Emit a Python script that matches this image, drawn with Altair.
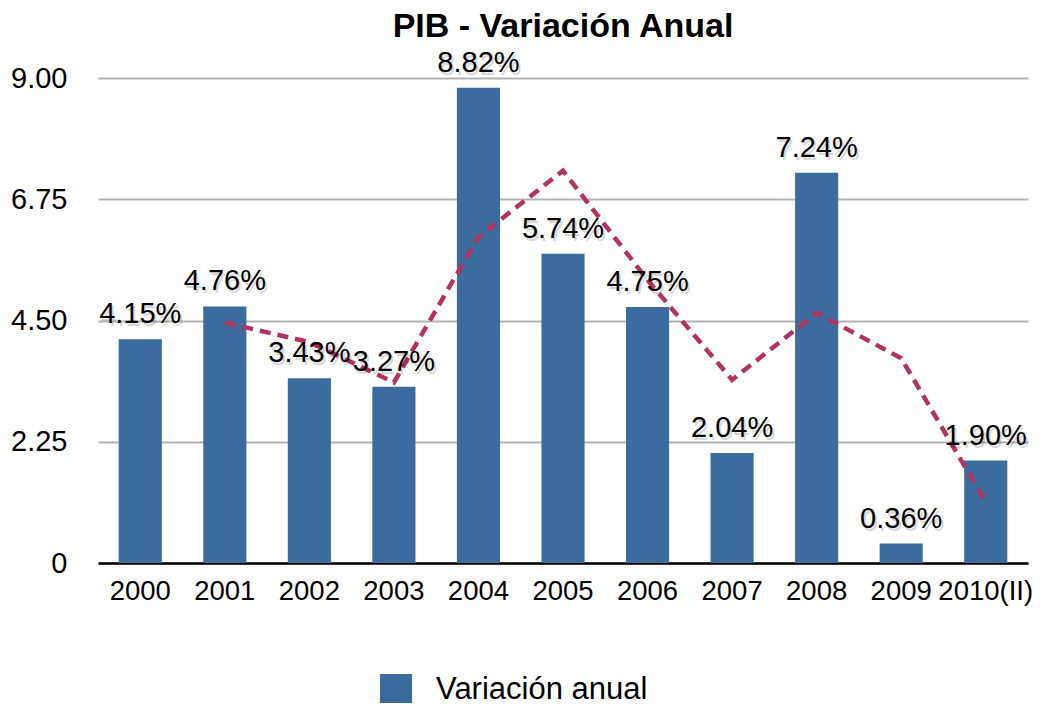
import altair as alt
import pandas as pd

years = ["2000", "2001", "2002", "2003", "2004", "2005", "2006", "2007", "2008", "2009", "2010(II)"]
values = [4.15, 4.76, 3.43, 3.27, 8.82, 5.74, 4.75, 2.04, 7.24, 0.36, 1.90]
labels = ["4.15%", "4.76%", "3.43%", "3.27%", "8.82%", "5.74%", "4.75%", "2.04%", "7.24%", "0.36%", "1.90%"]
trend_years = ["2001", "2002", "2003", "2004", "2005", "2006", "2007", "2008", "2009", "2010(II)"]
trend_values = [4.46, 4.10, 3.35, 6.05, 7.28, 5.25, 3.40, 4.64, 3.80, 1.13]
y_ticks = [0, 2.25, 4.5, 6.75, 9]
series_name = "Variación anual"

FONT = "Liberation Sans"
BLUE = "#3C6B9D"
RED = "#B4325F"

bars_df = pd.DataFrame({"year": years, "value": values, "label": labels, "serie": [series_name] * len(years)})
trend_df = pd.DataFrame({"year": trend_years, "value": trend_values})

x_enc = alt.X("year:N", sort=years,
              scale=alt.Scale(paddingInner=0.49, paddingOuter=0.245),
              axis=alt.Axis(title=None, labelAngle=0, labelFontSize=27.5, labelFont=FONT,
                            labelColor="#000", labelPadding=14, ticks=False,
                            domainColor="#000", domainWidth=2.5, grid=False))
y_scale = alt.Scale(domain=[0, 9], nice=False)
y_enc = alt.Y("value:Q", scale=y_scale,
              axis=alt.Axis(title=None, values=y_ticks, labelFontSize=29, labelFont=FONT,
                            labelColor="#000", labelPadding=31, ticks=False, domain=False,
                            gridColor="#b3b3b3", gridWidth=2,
                            labelExpr="datum.value == 0 ? '0' : format(datum.value, '.2f')"))

bars = alt.Chart(bars_df).mark_bar().encode(
    x=x_enc,
    y=y_enc,
    color=alt.Color("serie:N", scale=alt.Scale(domain=[series_name], range=[BLUE]),
                    legend=alt.Legend(title=None, orient="none", legendX=282, legendY=596,
                                      symbolType="square", symbolSize=1024,
                                      symbolStrokeWidth=0, labelFontSize=31, labelLimit=0,
                                      labelFont=FONT, labelColor="#000", labelOffset=24)),
)

shadow = alt.Chart(bars_df).mark_text(
    fontSize=29, font=FONT, color="#000", opacity=0.15, dx=2, dy=-13, baseline="alphabetic"
).encode(x=alt.X("year:N", sort=years), y=alt.Y("value:Q", scale=y_scale), text="label:N")

text = alt.Chart(bars_df).mark_text(
    fontSize=29, font=FONT, color="#000", dy=-16, baseline="alphabetic"
).encode(x=alt.X("year:N", sort=years), y=alt.Y("value:Q", scale=y_scale), text="label:N")

line = alt.Chart(trend_df).mark_line(
    color=RED, strokeWidth=4.5, strokeDash=[11, 7]
).encode(x=alt.X("year:N", sort=years), y=alt.Y("value:Q", scale=y_scale))

chart = alt.layer(bars, line, shadow, text).properties(
    width=930, height=485,
    title=alt.Title("PIB - Variación Anual", fontSize=34, font=FONT, fontWeight="bold",
                    color="#000", anchor="middle", offset=5),
    autosize=alt.AutoSizeParams(type="none"),
    padding={"left": 90, "top": 70, "right": 6, "bottom": 140},
).configure_view(stroke=None)

chart.save("out.html", embed_options={"renderer": "svg", "actions": False})
